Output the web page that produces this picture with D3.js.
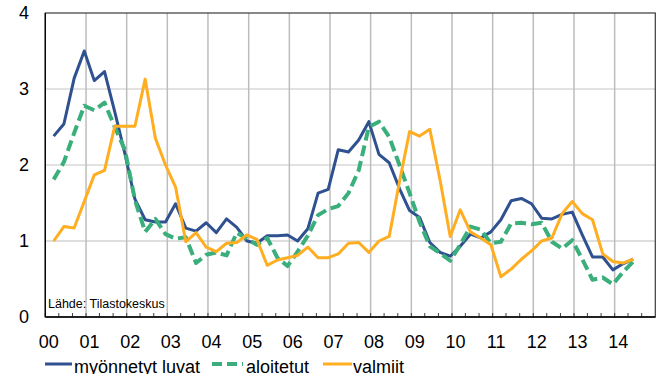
<!DOCTYPE html>
<html>
<head>
	<meta charset="utf-8">
	<script src="https://d3js.org/d3.v7.min.js"></script>
	<title>Asuntorakentaminen</title>
	<style>
		body { margin: 0; background: #fff; }
		text { font-family: "Liberation Sans", Arial, sans-serif; }
	</style>
</head>
<body>
	<div id="chart"></div>

	<script type="text/javascript">

		// quarterly periods 2000Q1 - 2014Q2
		var periods = [
			"2000Q1","2000Q2","2000Q3","2000Q4","2001Q1","2001Q2","2001Q3","2001Q4",
			"2002Q1","2002Q2","2002Q3","2002Q4","2003Q1","2003Q2","2003Q3","2003Q4",
			"2004Q1","2004Q2","2004Q3","2004Q4","2005Q1","2005Q2","2005Q3","2005Q4",
			"2006Q1","2006Q2","2006Q3","2006Q4","2007Q1","2007Q2","2007Q3","2007Q4",
			"2008Q1","2008Q2","2008Q3","2008Q4","2009Q1","2009Q2","2009Q3","2009Q4",
			"2010Q1","2010Q2","2010Q3","2010Q4","2011Q1","2011Q2","2011Q3","2011Q4",
			"2012Q1","2012Q2","2012Q3","2012Q4","2013Q1","2013Q2","2013Q3","2013Q4",
			"2014Q1","2014Q2"
		];

		var luvat = [
			2.38, 2.54, 3.14, 3.50, 3.11, 3.23, 2.70, 2.15,
			1.55, 1.28, 1.25, 1.25, 1.49, 1.17, 1.13, 1.24,
			1.11, 1.29, 1.18, 1.00, 0.97, 1.07, 1.07, 1.08,
			1.00, 1.16, 1.63, 1.68, 2.20, 2.17, 2.33, 2.57,
			2.14, 2.03, 1.69, 1.40, 1.31, 0.98, 0.85, 0.80,
			0.93, 1.09, 1.04, 1.12, 1.28, 1.53, 1.56, 1.49,
			1.30, 1.29, 1.35, 1.38, 1.08, 0.79, 0.79, 0.62,
			0.70, 0.76
		];

		var aloitetut = [
			1.81, 2.04, 2.42, 2.78, 2.72, 2.82, 2.50, 2.20,
			1.54, 1.12, 1.29, 1.09, 1.03, 1.05, 0.71, 0.82,
			0.85, 0.81, 1.11, 1.03, 0.95, 1.04, 0.78, 0.67,
			0.86, 1.07, 1.34, 1.42, 1.46, 1.63, 1.93, 2.50,
			2.57, 2.37, 2.00, 1.63, 1.25, 0.93, 0.84, 0.74,
			0.95, 1.19, 1.15, 0.97, 0.99, 1.23, 1.24, 1.22,
			1.24, 0.99, 0.90, 1.01, 0.76, 0.49, 0.52, 0.43,
			0.59, 0.73
		];

		var valmiit = [
			1.00, 1.19, 1.17, 1.52, 1.87, 1.93, 2.51, 2.51,
			2.51, 3.13, 2.35, 2.00, 1.71, 0.99, 1.11, 0.92,
			0.86, 0.97, 0.98, 1.08, 1.02, 0.68, 0.75, 0.78,
			0.81, 0.92, 0.78, 0.78, 0.83, 0.97, 0.98, 0.85,
			1.00, 1.06, 1.78, 2.44, 2.38, 2.47, 1.80, 1.06,
			1.41, 1.12, 1.04, 0.95, 0.53, 0.63, 0.76, 0.87,
			1.00, 1.04, 1.36, 1.52, 1.36, 1.28, 0.83, 0.73,
			0.71, 0.76
		];

		var yearLabels = ["00","01","02","03","04","05","06","07","08","09","10","11","12","13","14"];
		var yTicks = [0, 1, 2, 3, 4];
		var seriesNames = ["myönnetyt luvat", "aloitetut", "valmiit"];
		var sourceNote = "Lähde: Tilastokeskus";

		var colors = ["#2f5190", "#3aae7b", "#ffad21"];

		var svgwidth = 656;
		var svgheight = 374;
		var plot = { left: 45.3, right: 655.3, top: 13, bottom: 317 };

		var svg = d3.select("#chart").append("svg")
				.attr("width", svgwidth)
				.attr("height", svgheight);

		// point date = middle of last month of the quarter
		function toDate(p) {
			var yr = +p.slice(0, 4), q = +p.slice(5);
			return new Date(yr, q * 3 - 1, 16);
		}

		var xScale = d3.scaleTime()
						.domain([new Date(2000, 0, 1), new Date(2015, 0, 1)])
						.range([plot.left, plot.right]);

		var yScale = d3.scaleLinear()
						.domain([0, 4])
						.range([plot.bottom, plot.top]);

		// horizontal grid
		svg.selectAll(".hgrid").data(yTicks.filter(function(d){ return d > 0 && d < 4; }))
			.enter().append("line").attr("class", "hgrid")
			.attr("x1", plot.left).attr("x2", plot.right)
			.attr("y1", function(d){ return yScale(d); })
			.attr("y2", function(d){ return yScale(d); })
			.attr("stroke", function(d){ return d == 1 ? "#dedede" : "#c4c4c4"; })
			.attr("stroke-width", function(d){ return d == 1 ? 2 : 1; });

		// vertical grid at each year
		var years = d3.timeYear.range(new Date(2001, 0, 1), new Date(2015, 0, 1));
		svg.selectAll(".vgrid").data(years).enter().append("line").attr("class", "vgrid")
			.attr("x1", function(d){ return xScale(d); })
			.attr("x2", function(d){ return xScale(d); })
			.attr("y1", plot.top).attr("y2", plot.bottom)
			.attr("stroke", "#bdbdbd").attr("stroke-width", 1.5);

		// minor ticks every 4 months
		var minor = d3.timeMonth.every(4).range(new Date(2000, 0, 1), new Date(2015, 0, 1));
		svg.selectAll(".mtick").data(minor).enter().append("line").attr("class", "mtick")
			.attr("x1", function(d){ return xScale(d); })
			.attr("x2", function(d){ return xScale(d); })
			.attr("y1", plot.bottom).attr("y2", plot.bottom - 4)
			.attr("stroke", "#404040").attr("stroke-width", 1);

		// frame
		svg.append("rect")
			.attr("x", plot.left).attr("y", plot.top)
			.attr("width", plot.right - plot.left).attr("height", plot.bottom - plot.top)
			.attr("fill", "none").attr("stroke", "#3a3a3a").attr("stroke-width", 1.2);
		svg.append("line").attr("x1", plot.left).attr("x2", plot.left)
			.attr("y1", plot.top).attr("y2", plot.bottom).attr("stroke", "#000").attr("stroke-width", 1.3);
		svg.append("line").attr("x1", plot.left).attr("x2", plot.right)
			.attr("y1", plot.bottom).attr("y2", plot.bottom).attr("stroke", "#000").attr("stroke-width", 1.3);

		// y labels
		svg.selectAll(".ylab").data(yTicks).enter().append("text").attr("class", "ylab")
			.attr("x", 29)
			.attr("y", function(d){ return yScale(d); })
			.attr("dy", "0.36em")
			.attr("text-anchor", "end")
			.attr("font-size", 18)
			.attr("fill", "#000")
			.text(function(d){ return d; });

		// x labels
		svg.selectAll(".xlab").data(yearLabels).enter().append("text").attr("class", "xlab")
			.attr("x", function(d, i){ return xScale(new Date(2000 + i, 0, 1)) + 3.5; })
			.attr("y", 348)
			.attr("text-anchor", "middle")
			.attr("font-size", 18)
			.attr("fill", "#000")
			.text(function(d){ return d; });

		// source note
		svg.append("text").attr("x", 48).attr("y", 308)
			.attr("font-size", 12.5).attr("fill", "#000")
			.text(sourceNote);

		// lines
		var series = [luvat, aloitetut, valmiit];
		var line = d3.line()
					.x(function(d, i){ return xScale(toDate(periods[i])); })
					.y(function(d){ return yScale(d); });

		svg.selectAll(".serie").data(series).enter().append("path").attr("class", "serie")
			.attr("d", function(d){ return line(d); })
			.attr("fill", "none")
			.attr("stroke", function(d, i){ return colors[i]; })
			.attr("stroke-width", function(d, i){ return i == 1 ? 4 : 3; })
			.attr("stroke-dasharray", function(d, i){ return i == 1 ? "11,5" : null; })
			.attr("stroke-linejoin", "round");

		// legend
		var legendItems = [
			{ x1: 45, x2: 72, tx: 74 },
			{ x1: 212, x2: 243, tx: 246 },
			{ x1: 323, x2: 352, tx: 353 }
		];
		var leg = svg.selectAll(".leg").data(seriesNames).enter().append("g").attr("class", "leg");
		leg.append("line")
			.attr("x1", function(d, i){ return legendItems[i].x1; })
			.attr("x2", function(d, i){ return legendItems[i].x2; })
			.attr("y1", 364).attr("y2", 364)
			.attr("stroke", function(d, i){ return colors[i]; })
			.attr("stroke-width", function(d, i){ return i == 1 ? 4 : 3; })
			.attr("stroke-dasharray", function(d, i){ return i == 1 ? "10,5" : null; });
		leg.append("text")
			.attr("x", function(d, i){ return legendItems[i].tx; })
			.attr("y", 372.5)
			.attr("font-size", 18)
			.attr("fill", "#000")
			.text(function(d){ return d; });

	</script>
</body>
</html>
